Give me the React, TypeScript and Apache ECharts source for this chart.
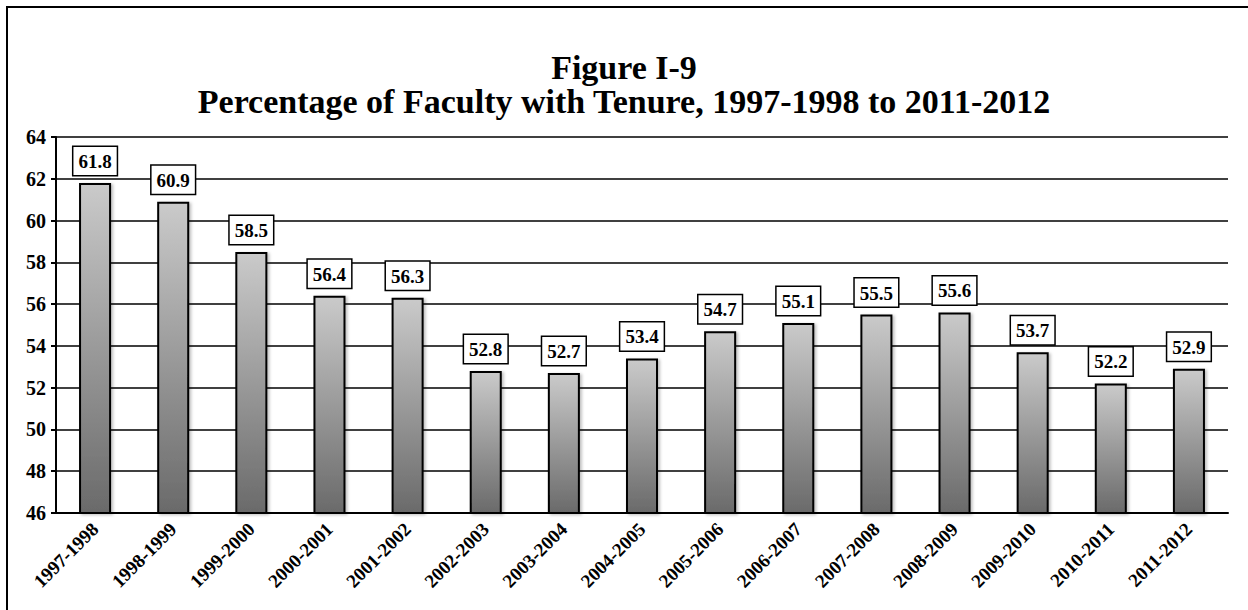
import React, { useEffect, useRef } from "react";
import * as echarts from "echarts";

const categories = [
  "1997-1998", "1998-1999", "1999-2000", "2000-2001", "2001-2002",
  "2002-2003", "2003-2004", "2004-2005", "2005-2006", "2006-2007",
  "2007-2008", "2008-2009", "2009-2010", "2010-2011", "2011-2012",
];
const values = [61.8, 60.9, 58.5, 56.4, 56.3, 52.8, 52.7, 53.4, 54.7, 55.1, 55.5, 55.6, 53.7, 52.2, 52.9];
const titleLines = ["Figure I-9", "Percentage of Faculty with Tenure, 1997-1998 to 2011-2012"];

const FONT = '"Liberation Serif", "Times New Roman", serif';

export default function App() {
  const ref = useRef<HTMLDivElement>(null);
  useEffect(() => {
    if (!ref.current) return;
    const chart = echarts.init(ref.current, null, { renderer: "svg" });
    chart.setOption({
      animation: false,
      backgroundColor: "#fff",
      title: {
        text: titleLines.join("\n"),
        left: "center",
        top: 45,
        textStyle: {
          fontFamily: FONT,
          fontWeight: "bold",
          fontSize: 34,
          lineHeight: 34,
          color: "#000",
        },
      },
      graphic: [
        {
          type: "rect",
          shape: { x: 7, y: 7, width: 1300, height: 700 },
          style: { fill: "none", stroke: "#000", lineWidth: 2 },
          silent: true,
        },
      ],
      grid: { left: 56, right: 20, top: 137, bottom: 97, containLabel: false },
      xAxis: {
        type: "category",
        data: categories,
        axisLine: { lineStyle: { color: "#000", width: 2 } },
        axisTick: { show: false },
        axisLabel: {
          rotate: 45,
          interval: 0,
          fontFamily: FONT,
          fontWeight: "bold",
          fontSize: 19,
          color: "#000",
          margin: 13,
        },
      },
      yAxis: {
        type: "value",
        min: 46,
        max: 64,
        interval: 2,
        axisLine: { show: true, lineStyle: { color: "#000", width: 2 } },
        axisTick: { show: true, length: 5, lineStyle: { color: "#000", width: 2 } },
        splitLine: { lineStyle: { color: "#000", width: 1.5 } },
        axisLabel: {
          fontFamily: FONT,
          fontWeight: "bold",
          fontSize: 20,
          color: "#000",
          margin: 10,
        },
      },
      series: [
        {
          type: "bar",
          data: values,
          barWidth: "41%",
          itemStyle: {
            color: new echarts.graphic.LinearGradient(0, 0, 0, 1, [
              { offset: 0, color: "#cacaca" },
              { offset: 1, color: "#6a6a6a" },
            ]),
            borderColor: "#000",
            borderWidth: 2,
            shadowColor: "rgba(0,0,0,0.25)",
            shadowBlur: 3,
            shadowOffsetX: 2,
            shadowOffsetY: 1,
          },
          label: {
            show: true,
            position: "top",
            distance: 8,
            formatter: (p: any) => p.value.toFixed(1),
            fontFamily: FONT,
            fontWeight: "bold",
            fontSize: 19,
            lineHeight: 19,
            color: "#000",
            backgroundColor: "#fff",
            borderColor: "#000",
            borderWidth: 1.5,
            padding: [5, 5, 4, 5],
          },
        },
      ],
    });
    return () => chart.dispose();
  }, []);
  return (
    <div
      ref={ref}
      style={{ position: "absolute", left: 0, top: 0, width: 1248, height: 610 }}
    />
  );
}
